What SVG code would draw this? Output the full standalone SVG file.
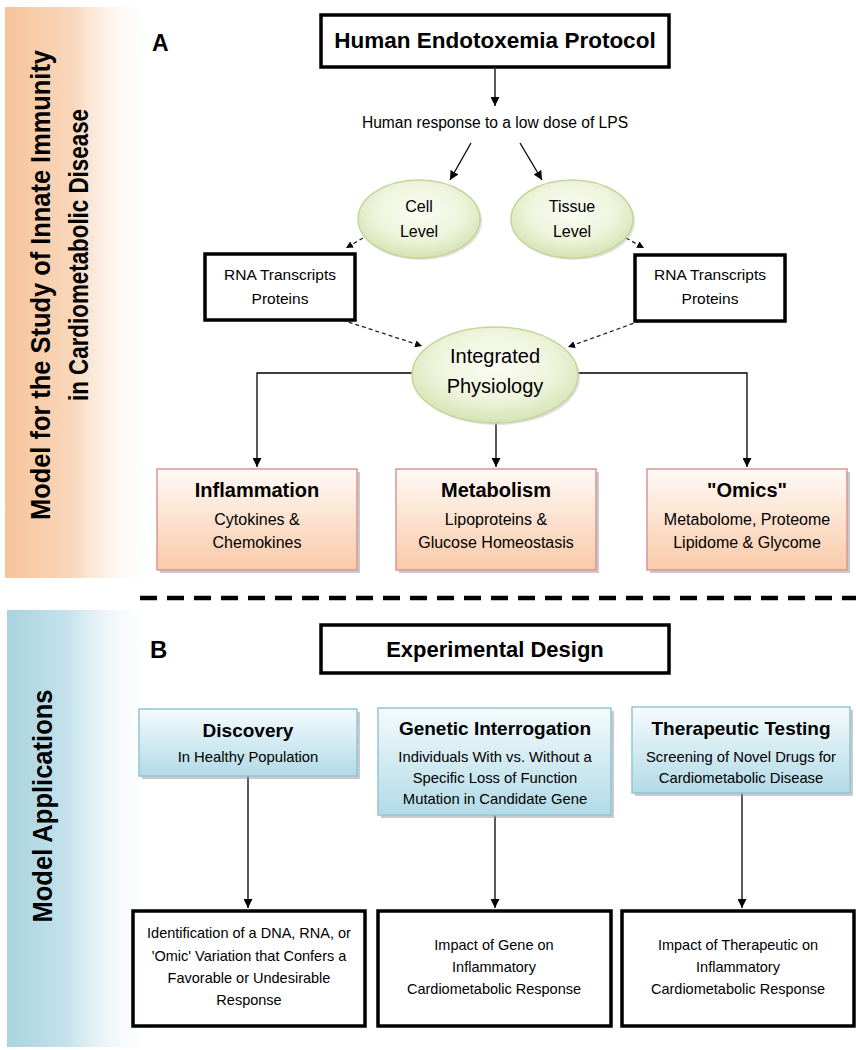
<svg xmlns="http://www.w3.org/2000/svg" width="856" height="1050" viewBox="0 0 856 1050">
<style>
text{font-family:"Liberation Sans",Arial,sans-serif;fill:#000}
.b{font-weight:bold}
.mid{text-anchor:middle}
.thick{fill:#fff;stroke:#000;stroke-width:3.5}
.pink{fill:url(#gPink);stroke:#d99694;stroke-width:1.5}
.blue{fill:url(#gBlue);stroke:#93c6d4;stroke-width:1.5}
.shadow{fill:#9f9f9f;opacity:0.55}
.ell{fill:url(#gEll);stroke:#c3d69b;stroke-width:1.5}
.eshadow{fill:#bdbdbd;opacity:0.45}
.conn{fill:none;stroke:#000;stroke-width:1.3}
.dash{fill:none;stroke:#222;stroke-width:1.3;stroke-dasharray:4 3}
</style>
<defs>
<linearGradient id="gOrange" x1="0" y1="0" x2="1" y2="0">
<stop offset="0" stop-color="#f6c49c"/>
<stop offset="0.45" stop-color="#f9d7bb"/>
<stop offset="1" stop-color="#ffffff" stop-opacity="0"/>
</linearGradient>
<linearGradient id="gBluePanel" x1="0" y1="0" x2="1" y2="0">
<stop offset="0" stop-color="#a9d3e0"/>
<stop offset="0.4" stop-color="#c4e2eb"/>
<stop offset="1" stop-color="#ffffff" stop-opacity="0"/>
</linearGradient>
<linearGradient id="gPink" x1="0" y1="0" x2="0" y2="1">
<stop offset="0" stop-color="#fffaf7"/>
<stop offset="1" stop-color="#f9caa8"/>
</linearGradient>
<linearGradient id="gBlue" x1="0" y1="0" x2="0" y2="1">
<stop offset="0" stop-color="#f4fbfd"/>
<stop offset="1" stop-color="#b2dae6"/>
</linearGradient>
<radialGradient id="gEll" cx="0.5" cy="0.4" r="0.6">
<stop offset="0" stop-color="#fbfdf4"/>
<stop offset="0.6" stop-color="#eef4dc"/>
<stop offset="1" stop-color="#d5e3b3"/>
</radialGradient>
<marker id="ah" viewBox="0 0 10 10" refX="10" refY="5" markerWidth="9" markerHeight="9" markerUnits="userSpaceOnUse" orient="auto">
<path d="M0,0 L10,5 L0,10 z" fill="#000"/>
</marker>
<marker id="ahs" viewBox="0 0 10 10" refX="10" refY="5" markerWidth="7" markerHeight="7" markerUnits="userSpaceOnUse" orient="auto">
<path d="M0,0 L10,5 L0,10 z" fill="#000"/>
</marker>
</defs>

<rect width="856" height="1050" fill="#fff"/>

<g id="panel-a">
<rect x="5" y="7" width="150" height="571" fill="url(#gOrange)"/>
<text class="b mid" font-size="28" transform="translate(50,285) rotate(-90)" textLength="470" lengthAdjust="spacingAndGlyphs">Model for the Study of Innate Immunity</text>
<text class="b mid" font-size="28" transform="translate(88,255) rotate(-90)" textLength="292" lengthAdjust="spacingAndGlyphs">in Cardiometabolic Disease</text>
</g>
<g id="panel-b">
<rect x="7" y="610" width="150" height="437" fill="url(#gBluePanel)"/>
<text class="b mid" font-size="28" transform="translate(52,806) rotate(-90)" textLength="233" lengthAdjust="spacingAndGlyphs">Model Applications</text>
</g>

<text class="b" x="152" y="51" font-size="23">A</text>
<text class="b" x="150" y="658" font-size="24">B</text>

<g id="separator">
<line x1="140" y1="598" x2="856" y2="598" stroke="#000" stroke-width="4.5" stroke-dasharray="17 10"/>
</g>

<g id="connectors">
<line class="conn" x1="495" y1="69" x2="495" y2="106" marker-end="url(#ah)"/>
<line class="conn" x1="471" y1="143" x2="450" y2="180" marker-end="url(#ah)"/>
<line class="conn" x1="520" y1="143" x2="542" y2="180" marker-end="url(#ah)"/>
<line class="dash" x1="363" y1="238" x2="346" y2="248" marker-end="url(#ahs)"/>
<line class="dash" x1="626" y1="238" x2="644" y2="248" marker-end="url(#ahs)"/>
<line class="dash" x1="342" y1="320" x2="422" y2="346" marker-end="url(#ahs)"/>
<line class="dash" x1="640" y1="321" x2="568" y2="347" marker-end="url(#ahs)"/>
<path class="conn" d="M412,373 H257 V467" marker-end="url(#ah)"/>
<path class="conn" d="M578,373 H747 V467" marker-end="url(#ah)"/>
<line class="conn" x1="496" y1="423" x2="496" y2="467" marker-end="url(#ah)"/>
<line class="conn" x1="248" y1="776" x2="248" y2="908" marker-end="url(#ah)"/>
<line class="conn" x1="495" y1="815" x2="495" y2="908" marker-end="url(#ah)"/>
<line class="conn" x1="742" y1="793" x2="742" y2="908" marker-end="url(#ah)"/>
</g>

<g id="node-protocol">
<rect class="thick" x="321" y="15" width="348" height="52"/>
<text class="b mid" x="495" y="48" font-size="22.5">Human Endotoxemia Protocol</text>
</g>
<g id="node-response">
<text class="mid" x="495" y="128" font-size="15.6">Human response to a low dose of LPS</text>
</g>
<g id="node-cell">
<ellipse class="eshadow" cx="421" cy="221" rx="61" ry="39"/>
<ellipse class="ell" cx="419" cy="219" rx="61" ry="39"/>
<text class="mid" x="419" y="212" font-size="16">Cell</text>
<text class="mid" x="419" y="237" font-size="16">Level</text>
</g>
<g id="node-tissue">
<ellipse class="eshadow" cx="574" cy="221" rx="61" ry="39"/>
<ellipse class="ell" cx="572" cy="219" rx="61" ry="39"/>
<text class="mid" x="572" y="212" font-size="16">Tissue</text>
<text class="mid" x="572" y="237" font-size="16">Level</text>
</g>
<g id="node-rna-left">
<rect class="thick" x="205" y="254" width="150" height="66"/>
<text class="mid" x="280" y="280" font-size="15.5">RNA Transcripts</text>
<text class="mid" x="280" y="304" font-size="15.5">Proteins</text>
</g>
<g id="node-rna-right">
<rect class="thick" x="635" y="255" width="150" height="66"/>
<text class="mid" x="710" y="280" font-size="15.5">RNA Transcripts</text>
<text class="mid" x="710" y="304" font-size="15.5">Proteins</text>
</g>
<g id="node-integrated">
<ellipse class="eshadow" cx="497" cy="377" rx="83" ry="48"/>
<ellipse class="ell" cx="495" cy="375" rx="83" ry="48"/>
<text class="mid" x="495" y="363" font-size="20">Integrated</text>
<text class="mid" x="495" y="393" font-size="20">Physiology</text>
</g>
<g id="node-inflammation">
<rect class="shadow" x="160" y="472" width="200" height="101"/>
<rect class="pink" x="157" y="469" width="200" height="101"/>
<text class="b mid" x="257" y="497" font-size="20">Inflammation</text>
<text class="mid" x="257" y="525" font-size="16">Cytokines &amp;</text>
<text class="mid" x="257" y="548" font-size="16">Chemokines</text>
</g>
<g id="node-metabolism">
<rect class="shadow" x="399" y="472" width="200" height="101"/>
<rect class="pink" x="396" y="469" width="200" height="101"/>
<text class="b mid" x="496" y="497" font-size="20">Metabolism</text>
<text class="mid" x="496" y="525" font-size="16">Lipoproteins &amp;</text>
<text class="mid" x="496" y="548" font-size="16">Glucose Homeostasis</text>
</g>
<g id="node-omics">
<rect class="shadow" x="650" y="472" width="200" height="101"/>
<rect class="pink" x="647" y="469" width="200" height="101"/>
<text class="b mid" x="747" y="497" font-size="20">"Omics"</text>
<text class="mid" x="747" y="525" font-size="16">Metabolome, Proteome</text>
<text class="mid" x="747" y="548" font-size="16">Lipidome &amp; Glycome</text>
</g>

<g id="node-design">
<rect class="thick" x="321" y="625" width="348" height="48"/>
<text class="b mid" x="495" y="657" font-size="22">Experimental Design</text>
</g>
<g id="node-discovery">
<rect class="shadow" x="142" y="712" width="218" height="67"/>
<rect class="blue" x="139" y="709" width="218" height="67"/>
<text class="b mid" x="248" y="737" font-size="19">Discovery</text>
<text class="mid" x="248" y="762" font-size="14.8">In Healthy Population</text>
</g>
<g id="node-genetic">
<rect class="shadow" x="381" y="711" width="233" height="107"/>
<rect class="blue" x="378" y="708" width="233" height="107"/>
<text class="b mid" x="495" y="735" font-size="19">Genetic Interrogation</text>
<text class="mid" x="495" y="762" font-size="14.8">Individuals With vs. Without a</text>
<text class="mid" x="495" y="783" font-size="14.8">Specific Loss of Function</text>
<text class="mid" x="495" y="804" font-size="14.8">Mutation in Candidate Gene</text>
</g>
<g id="node-therapeutic">
<rect class="shadow" x="635" y="710" width="218" height="86"/>
<rect class="blue" x="632" y="707" width="218" height="86"/>
<text class="b mid" x="741" y="735" font-size="19">Therapeutic Testing</text>
<text class="mid" x="741" y="762" font-size="14.8">Screening of Novel Drugs for</text>
<text class="mid" x="741" y="783" font-size="14.8">Cardiometabolic Disease</text>
</g>
<g id="node-identification">
<rect class="thick" x="133" y="911" width="232" height="115"/>
<text class="mid" x="249" y="938" font-size="14.5">Identification of a DNA, RNA, or</text>
<text class="mid" x="249" y="961" font-size="14.5">'Omic' Variation that Confers a</text>
<text class="mid" x="249" y="983" font-size="14.5">Favorable or Undesirable</text>
<text class="mid" x="249" y="1005" font-size="14.5">Response</text>
</g>
<g id="node-impact-gene">
<rect class="thick" x="378" y="911" width="233" height="115"/>
<text class="mid" x="494" y="950" font-size="14.5">Impact of Gene on</text>
<text class="mid" x="494" y="972" font-size="14.5">Inflammatory</text>
<text class="mid" x="494" y="994" font-size="14.5">Cardiometabolic Response</text>
</g>
<g id="node-impact-therapeutic">
<rect class="thick" x="622" y="911" width="232" height="115"/>
<text class="mid" x="738" y="950" font-size="14.5">Impact of Therapeutic on</text>
<text class="mid" x="738" y="972" font-size="14.5">Inflammatory</text>
<text class="mid" x="738" y="994" font-size="14.5">Cardiometabolic Response</text>
</g>
</svg>
